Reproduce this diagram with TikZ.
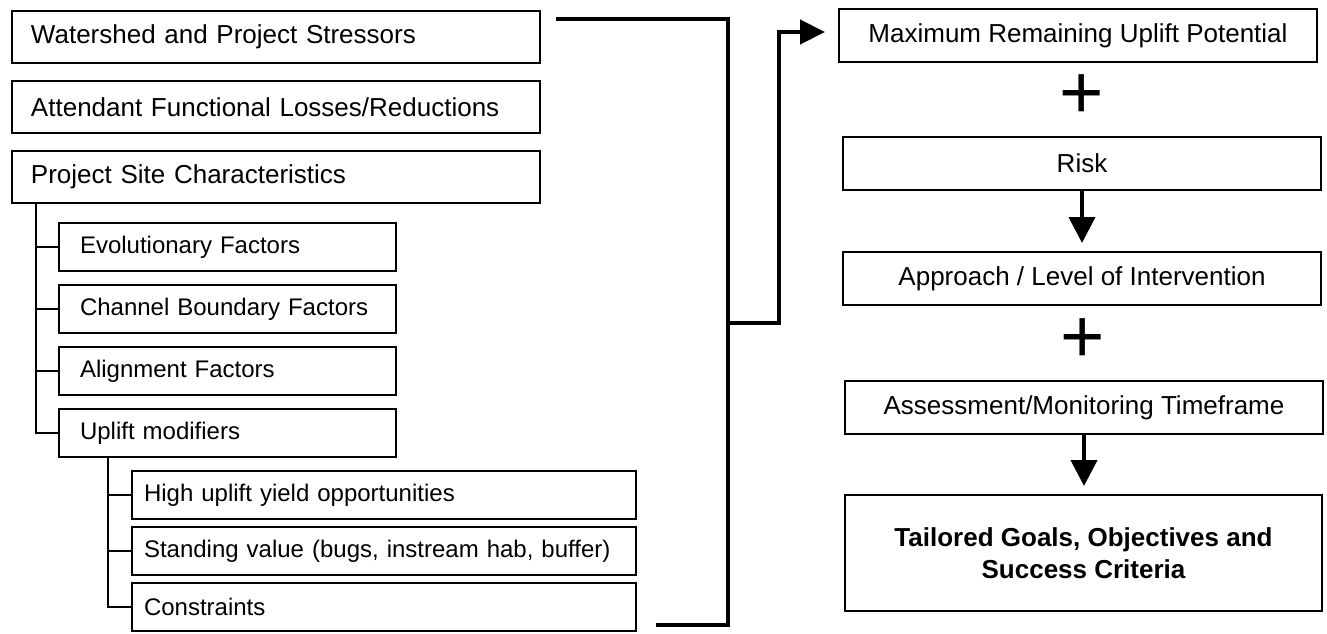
\documentclass[tikz,border=0pt]{standalone}
\usepackage{fontspec}
\setmainfont{Liberation Sans}
\usetikzlibrary{arrows.meta,positioning,calc}
\tikzset{
  rnode/.style={draw, line width=1pt, anchor=north west, outer sep=0pt, inner ysep=0pt},
  mainbox/.style={rnode, inner xsep=9.5pt, text width=245pt, minimum height=26pt,
    align=left, font=\fontsize{13}{15.6}\selectfont},
  subbox/.style={rnode, inner xsep=10.5pt, text width=147.5pt, minimum height=24pt,
    align=left, font=\fontsize{12}{14.4}\selectfont},
  leafbox/.style={rnode, inner xsep=6pt, text width=240pt, minimum height=24pt,
    align=left, font=\fontsize{12}{14.4}\selectfont},
  stepbox/.style={rnode, inner xsep=0pt, minimum width=239pt, minimum height=26.5pt,
    align=center, font=\fontsize{13}{15.6}\selectfont},
  goalbox/.style={stepbox, minimum width=238.5pt, minimum height=58pt,
    font=\fontsize{13}{15.8}\selectfont\bfseries},
  plusnode/.style={inner sep=0pt, font=\fontsize{38}{38}\selectfont},
  tree/.style={line width=1pt},
  bracket/.style={line width=2.2pt, line join=miter},
  flow/.style={-{Triangle[length=13pt,width=13pt]}, line width=2pt, shorten >=4.5pt},
}
\begin{document}
\begin{tikzpicture}[x=0.5pt, y=-0.5pt]
  \useasboundingbox (0,0) rectangle (1327,633);
  % --- site inputs ---
  \node[mainbox] (ws)  at (12,11)  {Watershed and Project Stressors};
  \node[mainbox] (afl) at (12,81)  {Attendant Functional Losses/Reductions};
  \node[mainbox] (psc) at (12,151) {Project Site Characteristics};
  \node[subbox] (evo) at (59,223) {Evolutionary Factors};
  \node[subbox] (cbf) at (59,285) {Channel Boundary Factors};
  \node[subbox] (alf) at (59,347) {Alignment Factors};
  \node[subbox] (upm) at (59,409) {Uplift modifiers};
  \node[leafbox] (hig) at (132,471) {High uplift yield opportunities};
  \node[leafbox] (stv) at (132,527) {Standing value (bugs, instream hab, buffer)};
  \node[leafbox] (con) at (132,583) {Constraints};
  \foreach \n in {evo,cbf,alf,upm}
    \draw[tree] ([xshift=12pt]psc.south west) |- (\n.west);
  \foreach \n in {hig,stv,con}
    \draw[tree] ([xshift=24.5pt]upm.south west) |- (\n.west);
  % --- outcome chain ---
  \node[stepbox] (mru)  at (839,9)   {Maximum Remaining Uplift Potential};
  \node[plusnode] (pl1) at (1082,97) {+};
  \node[stepbox] (risk) at (843,137) {Risk};
  \node[stepbox] (app)  at (843,252) {Approach / Level of Intervention};
  \node[plusnode] (pl2) at (1083,341) {+};
  \node[stepbox] (amt)  at (845,381) {Assessment/Monitoring Timeframe};
  \node[goalbox] (tgo)  at (845,495) {Tailored Goals, Objectives and\\Success Criteria};
  \draw[flow] (risk) -- (risk |- app.north);
  \draw[flow] (amt) -- (amt |- tgo.north);
  % --- bracket ---
  \coordinate (jt) at (728,19);
  \coordinate (jb) at (728,625);
  \coordinate (jm) at (728,323);
  \coordinate (jr) at (779,323);
  \draw[bracket] ([xshift=8pt,yshift=-4pt]ws.north east) -- (jt) -- (jb)
    -- ([xshift=10pt,yshift=3pt]con.south east);
  \draw[bracket, -{Triangle[length=12.5pt,width=12pt]}] (jm) -- (jr)
    |- ([xshift=-7pt,yshift=1.75pt]mru.west);
\end{tikzpicture}
\end{document}
